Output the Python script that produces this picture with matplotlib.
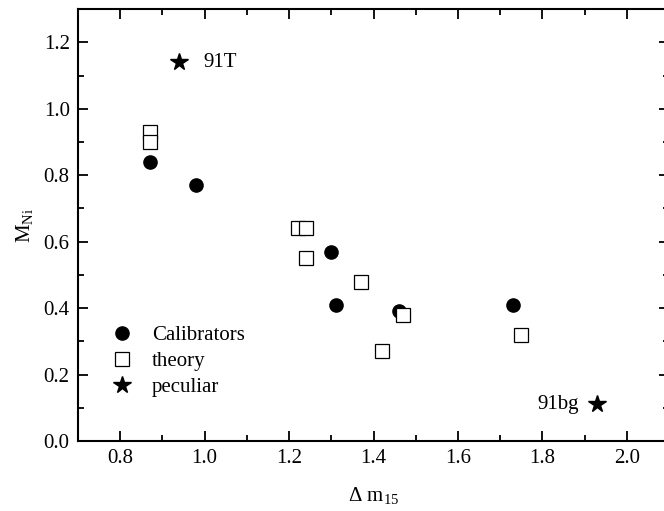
import numpy as np
import matplotlib
matplotlib.use("Agg")
import matplotlib.pyplot as plt
from matplotlib.ticker import MultipleLocator

# data
calib_dm15 = [0.87, 0.98, 1.30, 1.31, 1.46, 1.73]
calib_mni = [0.84, 0.77, 0.57, 0.41, 0.39, 0.41]

theory_dm15 = [0.87, 0.87, 1.22, 1.24, 1.24, 1.37, 1.42, 1.47, 1.75]
theory_mni = [0.93, 0.90, 0.64, 0.64, 0.55, 0.48, 0.27, 0.38, 0.32]

pec_dm15 = [0.94, 1.93]
pec_mni = [1.14, 0.11]
pec_names = ["91T", "91bg"]

plt.rcParams['font.family'] = ['Liberation Serif', 'DejaVu Serif']
plt.rcParams['mathtext.fontset'] = 'custom'
plt.rcParams['mathtext.rm'] = 'Liberation Serif'
plt.rcParams['mathtext.it'] = 'Liberation Serif:italic'
plt.rcParams['font.size'] = 15

fig = plt.figure(figsize=(6.64, 5.11), dpi=100)
ax = fig.add_axes([0.1175, 0.137, 0.89, 0.845])

ax.plot(calib_dm15, calib_mni, 'o', color='black', ms=9.5, ls='none', label='Calibrators')
ax.plot(theory_dm15, theory_mni, 's', mfc='white', mec='black', mew=0.9, ms=9.5, ls='none', label='theory')
ax.plot(pec_dm15, pec_mni, '*', color='black', ms=13, ls='none', label='peculiar')

# labels for the peculiar objects
ax.annotate(pec_names[0], (pec_dm15[0], pec_mni[0]), xytext=(17, 0), textcoords='offset points',
            ha='left', va='center')
ax.annotate(pec_names[1], (pec_dm15[1], pec_mni[1]), xytext=(-13, 0), textcoords='offset points',
            ha='right', va='center')

ax.set_xlim(0.7, 2.1)
ax.set_ylim(0.0, 1.3)
ax.xaxis.set_major_locator(MultipleLocator(0.2))
ax.xaxis.set_minor_locator(MultipleLocator(0.1))
ax.yaxis.set_major_locator(MultipleLocator(0.2))
ax.yaxis.set_minor_locator(MultipleLocator(0.1))
ax.xaxis.set_major_formatter(matplotlib.ticker.FormatStrFormatter('%.1f'))
ax.yaxis.set_major_formatter(matplotlib.ticker.FormatStrFormatter('%.1f'))

ax.tick_params(which='both', direction='in', top=True, right=True, width=1.3)
ax.tick_params(which='major', length=7, pad=6)
ax.tick_params(which='minor', length=4)
for s in ax.spines.values():
    s.set_linewidth(1.5)

ax.set_xlabel(r'$\Delta$ m$_{\rm 15}$', labelpad=12)
ax.set_ylabel(r'M$_{\rm Ni}$', labelpad=6)

ax.legend(loc='upper left', bbox_to_anchor=(0.042, 0.286), frameon=False,
          handletextpad=0.95, labelspacing=0.3, borderaxespad=0, handlelength=1.0)

fig.savefig('out.png', dpi=100)
